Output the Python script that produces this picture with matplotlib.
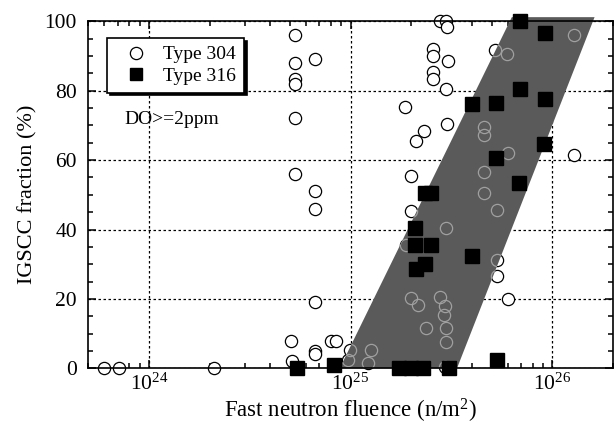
import matplotlib
matplotlib.use("Agg")
import matplotlib.pyplot as plt
from matplotlib.patches import Polygon
from matplotlib.ticker import LogLocator, MultipleLocator, NullFormatter

plt.rcParams['font.family'] = ['Liberation Serif', 'DejaVu Serif']
plt.rcParams['mathtext.fontset'] = 'custom'
plt.rcParams['mathtext.rm'] = 'Liberation Serif'
plt.rcParams['mathtext.it'] = 'Liberation Serif:italic'

# Type 304 (open circles): fluence (n/m2), IGSCC fraction (%)
fluence_304 = [6.0e23, 7.1e23, 2.1e24, 5.05e24, 5.1e24, 6.7e24, 6.7e24, 6.7e24, 6.7e24, 6.7e24,
               8.0e24, 8.5e24, 5.3e24, 5.3e24, 6.7e24, 5.3e24, 5.3e24, 5.3e24, 5.3e24,
               2.77e25, 2.97e25, 3.0e25, 2.55e25, 2.55e25, 3.05e25, 2.55e25, 2.55e25, 2.96e25,
               1.86e25, 2.32e25, 2.12e25, 3.0e25, 2.0e25, 5.2e25, 5.94e25, 1.28e26, 1.28e26,
               4.6e25, 4.6e25, 6.0e25, 4.6e25, 4.6e25, 2.0e25, 5.3e25, 2.98e25, 1.89e25,
               5.3e25, 5.3e25, 6.0e25, 2.0e25, 2.77e25, 2.95e25, 2.9e25, 2.36e25, 2.98e25,
               2.98e25, 9.9e24, 1.27e25, 1.22e25, 2.95e25, 9.7e24, 2.16e25]
igscc_304 = [0, 0, 0, 8, 2, 19, 51, 46, 5, 4,
             8, 8, 96, 88, 89, 83.5, 82, 72, 56,
             100, 100, 98.5, 92, 90, 88.5, 85.5, 83.5, 80.5,
             75.3, 68.5, 65.4, 70.5, 55.3, 91.6, 90.5, 96, 61.6,
             69.6, 67.3, 62, 56.5, 50.5, 45.2, 45.5, 40.4, 35.5,
             31.3, 26.5, 20, 20.4, 20.5, 17.9, 15.3, 11.5, 11.5,
             7.7, 5.4, 5.3, 1.6, 0.4, 2.3, 18.2]

# Type 316 (filled squares)
fluence_316 = [5.4e24, 8.3e24, 1.73e25, 1.99e25, 2.29e25, 3.06e25, 5.35e25,
               2.08e25, 2.08e25, 2.51e25, 2.34e25, 2.12e25, 3.98e25, 2.34e25, 2.51e25,
               6.8e25, 6.9e25, 9.2e25, 3.98e25, 5.25e25, 6.9e25, 9.2e25, 9.1e25, 5.25e25]
igscc_316 = [0, 1, 0, 0, 0, 0, 2.3,
             40.4, 35.5, 35.5, 30.2, 28.5, 32.4, 50.5, 50.5,
             53.4, 100, 96.7, 76.3, 76.5, 80.5, 77.6, 64.5, 60.5]

# scatter band corners (fluence, %)
band_x = [8.84e24, 3.37e25, 1.62e26, 6.3e25]
band_y = [0, 0, 101.2, 101.2]

fig = plt.figure(figsize=(6.16, 4.28), dpi=100)
ax = fig.add_axes([0.1429, 0.1395, 0.8523, 0.8107])
ax.set_xscale('log')
ax.set_xlim(5e23, 2e26)
ax.set_ylim(0, 100)

ax.grid(True, which='major', color='k', linestyle=(0, (2, 2)), linewidth=0.9)
ax.set_axisbelow(True)

ax.plot(fluence_304, igscc_304, 'o', mfc='white', mec='k', mew=0.9, ms=8.8,
        linestyle='none', zorder=3, clip_on=False)

band = Polygon(list(zip(band_x, band_y)), closed=True, facecolor='#5a5a5a',
               edgecolor='none', zorder=4, clip_on=False)
ax.add_patch(band)

# circles that sit inside the band show up as light outlines
inner, = ax.plot(fluence_304, igscc_304, 'o', mfc='none', mec='#a0a0a0', mew=0.9, ms=8.8,
                 linestyle='none', zorder=5)
inner.set_clip_path(band)

ax.plot(fluence_316, igscc_316, 's', color='k', ms=10, linestyle='none', zorder=6, clip_on=False)

# legend handles
h304, = ax.plot([], [], 'o', mfc='white', mec='k', mew=0.9, ms=8.8, linestyle='none')
h316, = ax.plot([], [], 's', color='k', ms=9, linestyle='none')
leg = ax.legend([h304, h316], ['Type 304', 'Type 316'], loc='upper left',
                bbox_to_anchor=(0.036, 0.952), fontsize=14, fancybox=False,
                shadow={'color': 'k', 'alpha': 1}, framealpha=1, edgecolor='k',
                handlelength=2.2, handletextpad=0.3, borderpad=0.4, labelspacing=0.2,
                borderaxespad=0)
leg.get_frame().set_linewidth(1.2)
leg.set_zorder(10)

ax.text(7.6e23, 71.7, 'DO>=2ppm', fontsize=14, va='center', ha='left', zorder=7)

ax.xaxis.set_major_locator(LogLocator(base=10, numticks=10))
ax.xaxis.set_minor_locator(LogLocator(base=10, subs=range(2, 10), numticks=30))
ax.xaxis.set_minor_formatter(NullFormatter())
ax.yaxis.set_major_locator(MultipleLocator(20))
ax.yaxis.set_minor_locator(MultipleLocator(5))

ax.tick_params(which='both', direction='in', top=True, right=True, width=1.1)
ax.tick_params(which='major', length=6, labelsize=15.5)
ax.tick_params(axis='y', which='major', pad=8)
ax.tick_params(axis='x', which='major', pad=4)
ax.tick_params(which='minor', length=3.5)
for s in ax.spines.values():
    s.set_linewidth(1.2)
    s.set_zorder(8)

ax.set_xlabel('Fast neutron fluence (n/m$^2$)', fontsize=16.5, labelpad=1)
ax.set_ylabel('IGSCC fraction (%)', fontsize=16, labelpad=5)

fig.savefig('out.png', dpi=100)
